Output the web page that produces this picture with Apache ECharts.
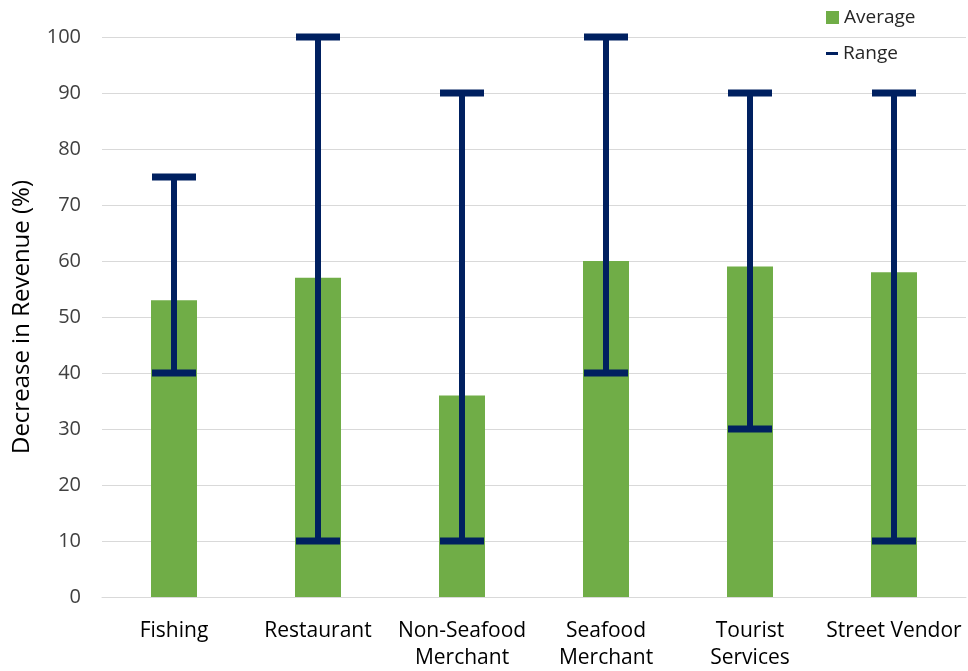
<!DOCTYPE html>
<html>
<head>
<meta charset="utf-8">
<script src="https://cdn.jsdelivr.net/npm/echarts@6/dist/echarts.min.js"></script>
<style>html,body{margin:0;padding:0;background:#fff}#c{width:968px;height:671px}</style>
</head>
<body>
<div id="c"></div>
<script>
var categories = ['Fishing', 'Restaurant', 'Non-Seafood\nMerchant', 'Seafood\nMerchant', 'Tourist\nServices', 'Street Vendor'];
var averageValues = [53, 57, 36, 60, 59, 58];
var rangeLow = [40, 10, 10, 40, 30, 10];
var rangeHigh = [75, 100, 90, 100, 90, 90];
var yTicks = { min: 0, max: 100, interval: 10 };

var FONT = '"Open Sans", "Noto Sans", sans-serif';
var NAVY = '#002060';
var GREEN = '#70AD47';

var rangeData = categories.map(function (c, i) { return [i, rangeLow[i], rangeHigh[i]]; });

var chart = echarts.init(document.getElementById('c'));
chart.setOption({
  animation: false,
  backgroundColor: '#fff',
  textStyle: { fontFamily: FONT },
  grid: { left: 102, right: 2, top: 37, bottom: 74, outerBoundsMode: 'none', containLabel: false },
  legend: [
    { data: [{ name: 'Average', icon: 'rect' }], orient: 'vertical', left: 826, top: 8, padding: 0, itemWidth: 13, itemHeight: 13, itemGap: 7,
      textStyle: { fontFamily: FONT, fontSize: 19, color: '#262626' } },
    { data: [{ name: 'Range', icon: 'rect' }], orient: 'vertical', left: 826, top: 44, padding: 0, itemWidth: 12, itemHeight: 3, itemGap: 7,
      textStyle: { fontFamily: FONT, fontSize: 19, color: '#262626' } }
  ],
  xAxis: {
    type: 'category',
    data: categories,
    axisLine: { lineStyle: { color: '#d9d9d9', width: 1 } },
    axisTick: { show: false },
    axisLabel: { fontFamily: FONT, fontSize: 21, color: '#000', margin: 21, lineHeight: 27, interval: 0 }
  },
  yAxis: {
    type: 'value',
    min: yTicks.min, max: yTicks.max, interval: yTicks.interval,
    name: 'Decrease in Revenue (%)',
    nameLocation: 'middle',
    nameGap: 68,
    nameTextStyle: { fontFamily: FONT, fontSize: 24, color: '#000' },
    axisLine: { show: false },
    axisTick: { show: false },
    axisLabel: { fontFamily: FONT, fontSize: 20, color: '#404040', margin: 21 },
    splitLine: { lineStyle: { color: '#d9d9d9', width: 1 } }
  },
  series: [
    {
      name: 'Average',
      type: 'bar',
      data: averageValues,
      barWidth: 46,
      itemStyle: { color: GREEN }
    },
    {
      name: 'Range',
      type: 'custom',
      itemStyle: { color: NAVY },
      data: rangeData,
      encode: { x: 0, y: [1, 2] },
      z: 10,
      renderItem: function (params, api) {
        var x = api.value(0);
        var lo = api.coord([x, api.value(1)]);
        var hi = api.coord([x, api.value(2)]);
        var half = 22;
        var style = { stroke: NAVY, lineWidth: 6, fill: null };
        return {
          type: 'group',
          children: [
            { type: 'line', shape: { x1: lo[0], y1: lo[1], x2: hi[0], y2: hi[1] }, style: style },
            { type: 'line', shape: { x1: lo[0] - half, y1: lo[1], x2: lo[0] + half, y2: lo[1] }, style: { stroke: NAVY, lineWidth: 7, fill: null } },
            { type: 'line', shape: { x1: hi[0] - half, y1: hi[1], x2: hi[0] + half, y2: hi[1] }, style: { stroke: NAVY, lineWidth: 7, fill: null } }
          ]
        };
      }
    }
  ]
});
</script>
</body>
</html>
